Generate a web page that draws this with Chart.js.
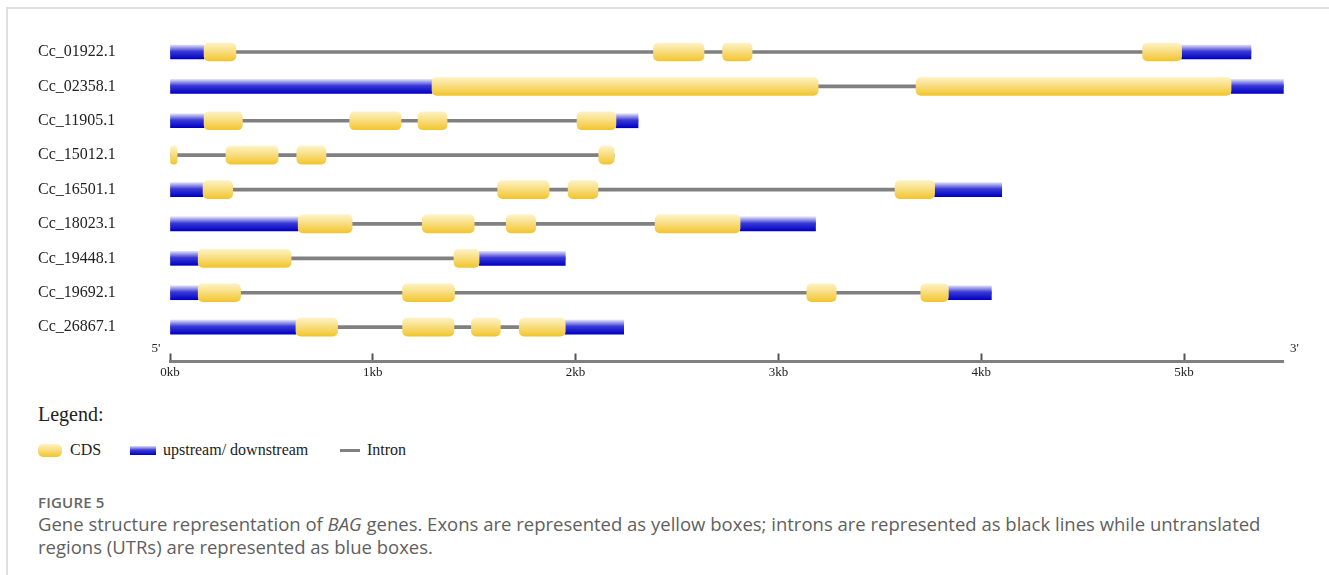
<!DOCTYPE html>
<html>
<head>
<meta charset="utf-8">
<title>Gene structure of BAG genes</title>
<script src="https://cdn.jsdelivr.net/npm/chart.js@4.4.1/dist/chart.umd.min.js"></script>
<style>
  html, body { margin: 0; padding: 0; background: #fff; }
  #fig { position: relative; width: 1329px; height: 575px; overflow: hidden; }
  #frame { position: absolute; left: 6px; top: 7px; right: 0; bottom: 0;
           border-top: 2px solid #e0e0e0; border-left: 2px solid #e0e0e0; }
  #chart { position: absolute; left: 0; top: 0; }
  .serif { position: absolute; white-space: nowrap; color: #222;
           font-family: "Liberation Serif", "Times New Roman", serif; }
  .sw { position: absolute; }
  .cap { position: absolute; left: 38px; white-space: nowrap; color: #5f5f5f;
         font-family: "Open Sans", "Noto Sans", sans-serif; }
</style>
</head>
<body>
<div id="fig">
  <div id="frame"></div>
  <canvas id="chart" width="1329" height="400"></canvas>
  <div id="legend"></div>
  <div class="cap" style="top:492px;font-size:15px;font-weight:600;letter-spacing:0.2px;color:#666;">FIGURE 5</div>
  <div class="cap" style="top:512px;font-size:18.5px;line-height:23px;">Gene structure representation of <i>BAG</i> genes. Exons are represented as yellow boxes; introns are represented as black lines while untranslated<br>regions (UTRs) are represented as blue boxes.</div>
</div>
<script>
// Transcripts, top to bottom
const genes = ['Cc_01922.1', 'Cc_02358.1', 'Cc_11905.1', 'Cc_15012.1', 'Cc_16501.1',
               'Cc_18023.1', 'Cc_19448.1', 'Cc_19692.1', 'Cc_26867.1'];

// Untranslated (upstream / downstream) regions per transcript, [start, end] in kb
const utrSegments = [
  [[0, 0.168], [4.988, 5.330]],
  [[0, 1.292], [5.232, 5.490]],
  [[0, 0.168], [2.199, 2.308]],
  [],
  [[0, 0.163], [3.770, 4.101]],
  [[0, 0.632], [2.811, 3.183]],
  [[0, 0.139], [1.524, 1.949]],
  [[0, 0.139], [3.838, 4.050]],
  [[0, 0.621], [1.949, 2.237]]
];

// Coding sequences (exons) per transcript, [start, end] in kb
const cdsSegments = [
  [[0.168, 0.325], [2.384, 2.633], [2.725, 2.870], [4.796, 4.988]],
  [[1.292, 3.196], [3.679, 5.232]],
  [[0.168, 0.357], [0.886, 1.139], [1.223, 1.366], [2.007, 2.199]],
  [[0, 0.035], [0.276, 0.533], [0.625, 0.769], [2.114, 2.190]],
  [[0.163, 0.309], [1.616, 1.869], [1.963, 2.110], [3.575, 3.770]],
  [[0.632, 0.898], [1.244, 1.500], [1.658, 1.803], [2.392, 2.811]],
  [[0.139, 0.597], [1.400, 1.524]],
  [[0.139, 0.348], [1.147, 1.403], [3.140, 3.285], [3.702, 3.838]],
  [[0.621, 0.826], [1.147, 1.400], [1.486, 1.629], [1.722, 1.949]]
];

// Ruler
const kbTicks = [0, 1, 2, 3, 4, 5];
const rulerMaxKb = 5.49;

// Legend entries
const legendLabels = ['CDS', 'upstream/ downstream', 'Intron'];

const CDS_STOPS = [[0, '#fdf2c4'], [0.5, '#f8dc7c'], [1, '#f2c52e']];
const UTR_STOPS = [[0, '#dcdcf8'], [0.45, '#3a3ad6'], [1, '#0000c4']];
const INTRON_COLOR = '#808080';
const CDS_H = 18, UTR_H = 14, INTRON_H = 3;

const toPoints = lists => lists.flatMap((list, i) => list.map(([s, e]) => ({ y: genes[i], x: [s, e] })));
const intronPoints = genes.map((g, i) => {
  const all = utrSegments[i].concat(cdsSegments[i]);
  return { y: g, x: [Math.min(...all.map(s => s[0])), Math.max(...all.map(s => s[1]))] };
});

// Vertical gradient repeated for every transcript row
function rowGradient(chart, thickness, stops) {
  const ys = chart.scales.y;
  if (!chart.chartArea || !ys) return stops[stops.length - 1][1];
  const centers = genes.map((_, i) => ys.getPixelForValue(i));
  const half = thickness / 2;
  const y0 = centers[0] - half, y1 = centers[centers.length - 1] + half;
  const span = y1 - y0;
  const g = chart.ctx.createLinearGradient(0, y0, 0, y1);
  centers.forEach(c => {
    stops.forEach(([t, col]) => {
      const off = (c - half + t * thickness - y0) / span;
      g.addColorStop(Math.min(1, Math.max(0, off)), col);
    });
  });
  return g;
}

// 5' / 3' markers at both ends of the ruler
const endMarks = {
  id: 'endMarks',
  afterDraw(chart) {
    const { ctx, scales: { x } } = chart;
    ctx.save();
    ctx.font = '13px "Liberation Serif", serif';
    ctx.fillStyle = '#222';
    ctx.textAlign = 'center';
    ctx.textBaseline = 'middle';
    ctx.fillText("5'", x.left - 14, x.top - 13);
    ctx.fillText("3'", x.right + 11, x.top - 13);
    ctx.restore();
  }
};

const chart = new Chart(document.getElementById('chart'), {
  type: 'bar',
  data: {
    labels: genes.concat(['']),
    datasets: [
      {
        label: legendLabels[0], data: toPoints(cdsSegments), order: 1,
        barThickness: CDS_H, borderRadius: 5, borderSkipped: false, borderWidth: 0,
        backgroundColor: ctx => rowGradient(ctx.chart, CDS_H, CDS_STOPS)
      },
      {
        label: legendLabels[1], data: toPoints(utrSegments), order: 2,
        barThickness: UTR_H, borderRadius: 0, borderSkipped: false, borderWidth: 0,
        backgroundColor: ctx => rowGradient(ctx.chart, UTR_H, UTR_STOPS)
      },
      {
        label: legendLabels[2], data: intronPoints, order: 3,
        barThickness: INTRON_H, borderWidth: 0, backgroundColor: INTRON_COLOR
      }
    ]
  },
  options: {
    indexAxis: 'y',
    responsive: false,
    animation: false,
    events: [],
    grouped: false,
    clip: false,
    layout: { padding: { top: 52, left: 38, right: 45.6, bottom: 10.5 } },
    plugins: { legend: { display: false }, tooltip: { enabled: false } },
    scales: {
      x: {
        type: 'linear', min: 0, max: rulerMaxKb,
        afterFit: s => { s.height = 28; },
        afterBuildTicks: s => { s.ticks = kbTicks.map(v => ({ value: v })); },
        border: { display: true, color: INTRON_COLOR, width: 3 },
        grid: { display: true, drawOnChartArea: false, drawTicks: true, tickLength: -8,
                tickColor: '#555', tickWidth: 2 },
        ticks: {
          padding: 11, color: '#222',
          font: { family: '"Liberation Serif", serif', size: 13 },
          callback: v => v + 'kb'
        }
      },
      y: {
        type: 'category', offset: false,
        afterFit: s => { s.width = 132; },
        border: { display: false },
        grid: { display: false },
        ticks: {
          crossAlign: 'far', autoSkip: false, color: '#222',
          font: { family: '"Liberation Serif", serif', size: 16 }
        }
      }
    }
  },
  plugins: [endMarks]
});
chart.update();

// Legend under the ruler
const legendBox = document.getElementById('legend');
const mk = (cls, style, text) => {
  const d = document.createElement('div');
  d.className = cls; d.setAttribute('style', style);
  if (text) d.textContent = text;
  legendBox.appendChild(d);
};
const cssGrad = stops => 'linear-gradient(to bottom,' + stops.map(([t, c]) => c + ' ' + (t * 100) + '%').join(',') + ')';
mk('serif', 'left:38px;top:401px;font-size:20px;line-height:26px;', 'Legend:');
mk('sw', 'left:38px;top:444px;width:24px;height:13px;border-radius:5px;background:' + cssGrad(CDS_STOPS));
mk('serif', 'left:70px;top:440px;font-size:16px;line-height:20px;', legendLabels[0]);
mk('sw', 'left:130px;top:446px;width:26px;height:9px;background:' + cssGrad(UTR_STOPS));
mk('serif', 'left:163px;top:440px;font-size:16px;line-height:20px;', legendLabels[1]);
mk('sw', 'left:340px;top:449px;width:20px;height:3px;background:' + INTRON_COLOR);
mk('serif', 'left:367px;top:440px;font-size:16px;line-height:20px;', legendLabels[2]);
</script>
</body>
</html>
